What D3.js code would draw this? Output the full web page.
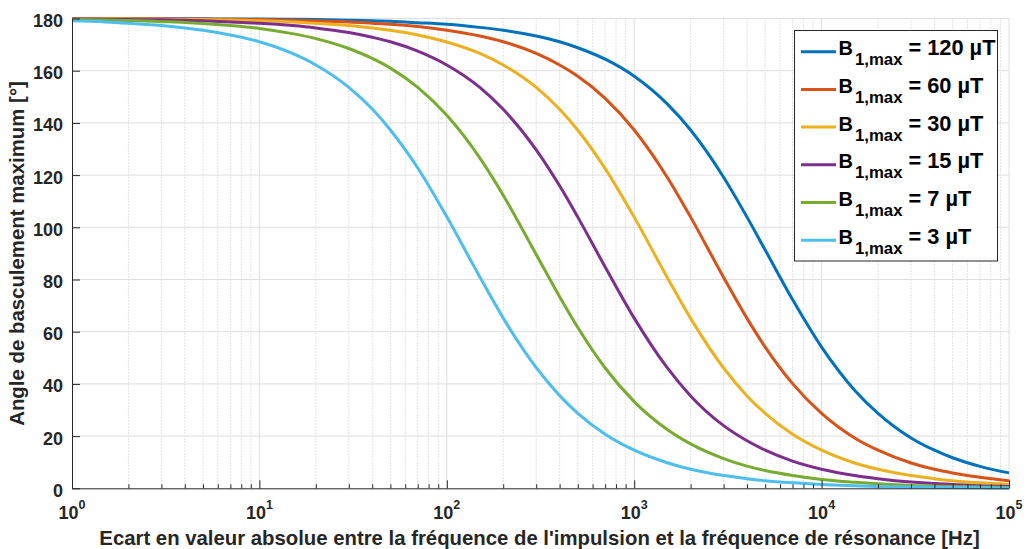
<!DOCTYPE html>
<html><head><meta charset="utf-8">
<script src="https://cdn.jsdelivr.net/npm/d3@7"></script>
<style>
body{margin:0;background:#fff;}
svg text{font-family:"Liberation Sans",Arial,Helvetica,sans-serif;font-weight:bold;}
</style>
</head><body>
<svg id="chart" width="1027" height="549"></svg>
<script>
// ---- data ----
const freqs = [1,1.5,2,3,4,5,7,10,15,20,30,40,50,70,100,150,200,300,400,500,700,1000,1500,2000,3000,4000,5000,7000,10000,15000,20000,30000,40000,50000,70000,100000];
const b120 = [180.0,180.0,180.0,179.9,179.9,179.9,179.8,179.8,179.7,179.6,179.3,179.1,178.9,178.4,177.8,176.6,175.5,173.3,171.1,168.8,164.4,157.9,147.3,137.3,119.2,103.9,91.3,72.3,54.1,37.6,28.7,19.3,14.6,11.7,8.4,5.9];
const b60  = [180.0,179.9,179.9,179.9,179.8,179.8,179.7,179.6,179.3,179.1,178.7,178.2,177.8,176.9,175.5,173.3,171.1,166.6,162.2,157.9,149.4,137.3,119.2,103.9,80.8,65.1,54.1,40.1,28.7,19.3,14.6,9.7,7.3,5.9,4.2,2.9];
const b30  = [179.9,179.9,179.8,179.7,179.6,179.6,179.4,179.1,178.7,178.2,177.3,176.4,175.5,173.7,171.0,166.6,162.2,153.6,145.2,137.2,122.5,103.9,80.8,65.1,46.1,35.4,28.7,20.7,14.6,9.7,7.3,4.9,3.7,2.9,2.1,1.5];
const b15  = [179.8,179.7,179.6,179.5,179.3,179.1,178.7,178.2,177.3,176.4,174.6,172.8,171.1,167.5,162.2,153.6,145.2,129.7,115.9,103.9,84.8,65.2,46.2,35.4,24.0,18.2,14.6,10.4,7.3,4.9,3.7,2.4,1.8,1.5,1.0,0.7];
const b7   = [179.6,179.4,179.2,178.8,178.5,178.1,177.3,176.2,174.2,172.3,168.5,164.7,161.0,153.6,142.9,126.6,112.3,89.6,73.4,61.6,46.1,33.2,22.5,17.0,11.4,8.5,6.8,4.9,3.4,2.3,1.7,1.1,0.9,0.7,0.5,0.3];
const b3   = [179.1,178.7,178.2,177.3,176.4,175.5,173.7,171.1,166.6,162.2,153.6,145.3,137.3,122.7,104.0,81.0,65.2,46.2,35.5,28.7,20.7,14.6,9.8,7.3,4.9,3.7,2.9,2.1,1.5,1.0,0.7,0.5,0.4,0.3,0.2,0.1];
const seriesValues = [b120,b60,b30,b15,b7,b3];
const seriesLabels = ["120","60","30","15","7","3"];
const colors = ["#0072BD","#D95319","#EDB120","#7E2F8E","#77AC30","#4DBEEE"];
const yTicks = [0,20,40,60,80,100,120,140,160,180];
const xTickExponents = [0,1,2,3,4,5];
const xLabel = "Ecart en valeur absolue entre la fréquence de l'impulsion et la fréquence de résonance [Hz]";
const yLabel = "Angle de basculement maximum [°]";

// ---- layout ----
const L = 72, R = 1009, T = 18.5, B = 488.3;
const svg = d3.select("#chart");
const x = d3.scaleLog().domain([1,1e5]).range([L,R]);
const y = d3.scaleLinear().domain([0,180]).range([B,T]);

function fitWidth(sel, target){
  const w = sel.node().getComputedTextLength();
  const fs = +sel.attr("font-size");
  if (w > 0) sel.attr("font-size", fs*target/w);
  return sel;
}

const majorX = xTickExponents.map(e => Math.pow(10,e));
const minorX = [];
for (let e=0;e<5;e++) for (let m=2;m<=9;m++) minorX.push(m*Math.pow(10,e));

// grid
const grid = svg.append("g");
grid.selectAll(".mnx").data(minorX).enter().append("line")
  .attr("x1",d=>x(d)).attr("x2",d=>x(d)).attr("y1",T).attr("y2",B)
  .attr("stroke","#c8c8c8").attr("stroke-width",1).attr("stroke-dasharray","1,2");
grid.selectAll(".mjx").data(majorX.slice(1)).enter().append("line")
  .attr("x1",d=>x(d)).attr("x2",d=>x(d)).attr("y1",T).attr("y2",B)
  .attr("stroke","#dfdfdf").attr("stroke-width",1);
grid.selectAll(".mjy").data(yTicks.slice(1)).enter().append("line")
  .attr("x1",L).attr("x2",R).attr("y1",d=>y(d)).attr("y2",d=>y(d))
  .attr("stroke","#dfdfdf").attr("stroke-width",1);

// curves
const line = d3.line().x((d,i)=>x(freqs[i])).y(d=>y(d)).curve(d3.curveMonotoneX);
svg.append("g").selectAll("path").data(seriesValues).enter().append("path")
  .attr("d",d=>line(d)).attr("fill","none")
  .attr("stroke",(d,i)=>colors[i]).attr("stroke-width",3)
  .attr("stroke-linejoin","round").attr("stroke-linecap","butt");

// axes
const axCol = "#262626";
const yAxis = d3.axisLeft(y).tickValues(yTicks).tickSizeInner(-8).tickSizeOuter(0).tickPadding(9);
const gy = svg.append("g").attr("transform",`translate(${L},0)`).call(yAxis);
gy.selectAll("text").attr("font-size",18).attr("dy","0.44em").attr("fill",axCol)
  .style("font-family","'Liberation Sans',Arial,sans-serif").style("font-weight","bold");

const xMinorAxis = d3.axisBottom(x).tickValues(minorX).tickSizeInner(-4).tickSizeOuter(0).tickFormat("");
const gxm = svg.append("g").attr("transform",`translate(0,${B})`).call(xMinorAxis);
gxm.select(".domain").remove();
const xAxis = d3.axisBottom(x).tickValues(majorX).tickSizeInner(-8).tickSizeOuter(0).tickFormat("");
const gx = svg.append("g").attr("transform",`translate(0,${B})`).call(xAxis);
[gy,gx,gxm].forEach(g=>{g.selectAll("line").attr("stroke",axCol);g.selectAll(".domain").attr("stroke",axCol);});

// x tick labels 10^n
const xl = svg.append("g");
xTickExponents.forEach(e=>{
  const t = xl.append("text").attr("x",x(Math.pow(10,e))).attr("y",519)
    .attr("text-anchor","middle").attr("font-size",18).attr("fill",axCol);
  t.append("tspan").text("10");
  t.append("tspan").attr("font-size",12.5).attr("dy",-10).text(String(e));
});

// axis titles
const xt = svg.append("text").attr("x",539.5).attr("y",545).attr("text-anchor","middle")
  .attr("font-size",20).attr("fill",axCol).text(xLabel);
fitWidth(xt, 881);
const yt = svg.append("text").attr("transform",`translate(24,253.5) rotate(-90)`)
  .attr("text-anchor","middle").attr("font-size",20).attr("fill",axCol).text(yLabel);
fitWidth(yt, 345);

// legend
const lg = svg.append("g");
lg.append("rect").attr("x",794.5).attr("y",30.5).attr("width",203).attr("height",230.5)
  .attr("fill","#fff").attr("stroke",axCol).attr("stroke-width",1);
let subFs = null, mainFs = null;
seriesLabels.forEach((s,i)=>{
  const cy = 51.7 + i*37.7;
  lg.append("line").attr("x1",801).attr("x2",836).attr("y1",cy).attr("y2",cy)
    .attr("stroke",colors[i]).attr("stroke-width",3);
  lg.append("text").attr("x",838.5).attr("y",cy+3.4).attr("font-size",20).attr("fill","#000").text("B");
  const sub = lg.append("text").attr("x",855).attr("y",cy+13.4).attr("font-size",16).attr("fill","#000").text("1,max");
  if (subFs === null) { fitWidth(sub, 47.5); subFs = +sub.attr("font-size"); } else sub.attr("font-size", subFs);
  const rest = lg.append("text").attr("x",908.5).attr("y",cy+3.4).attr("font-size",20).attr("fill","#000").text("= " + s + " µT");
  if (mainFs === null) { fitWidth(rest, 87); mainFs = +rest.attr("font-size"); } else rest.attr("font-size", mainFs);
});
</script>
</body></html>
